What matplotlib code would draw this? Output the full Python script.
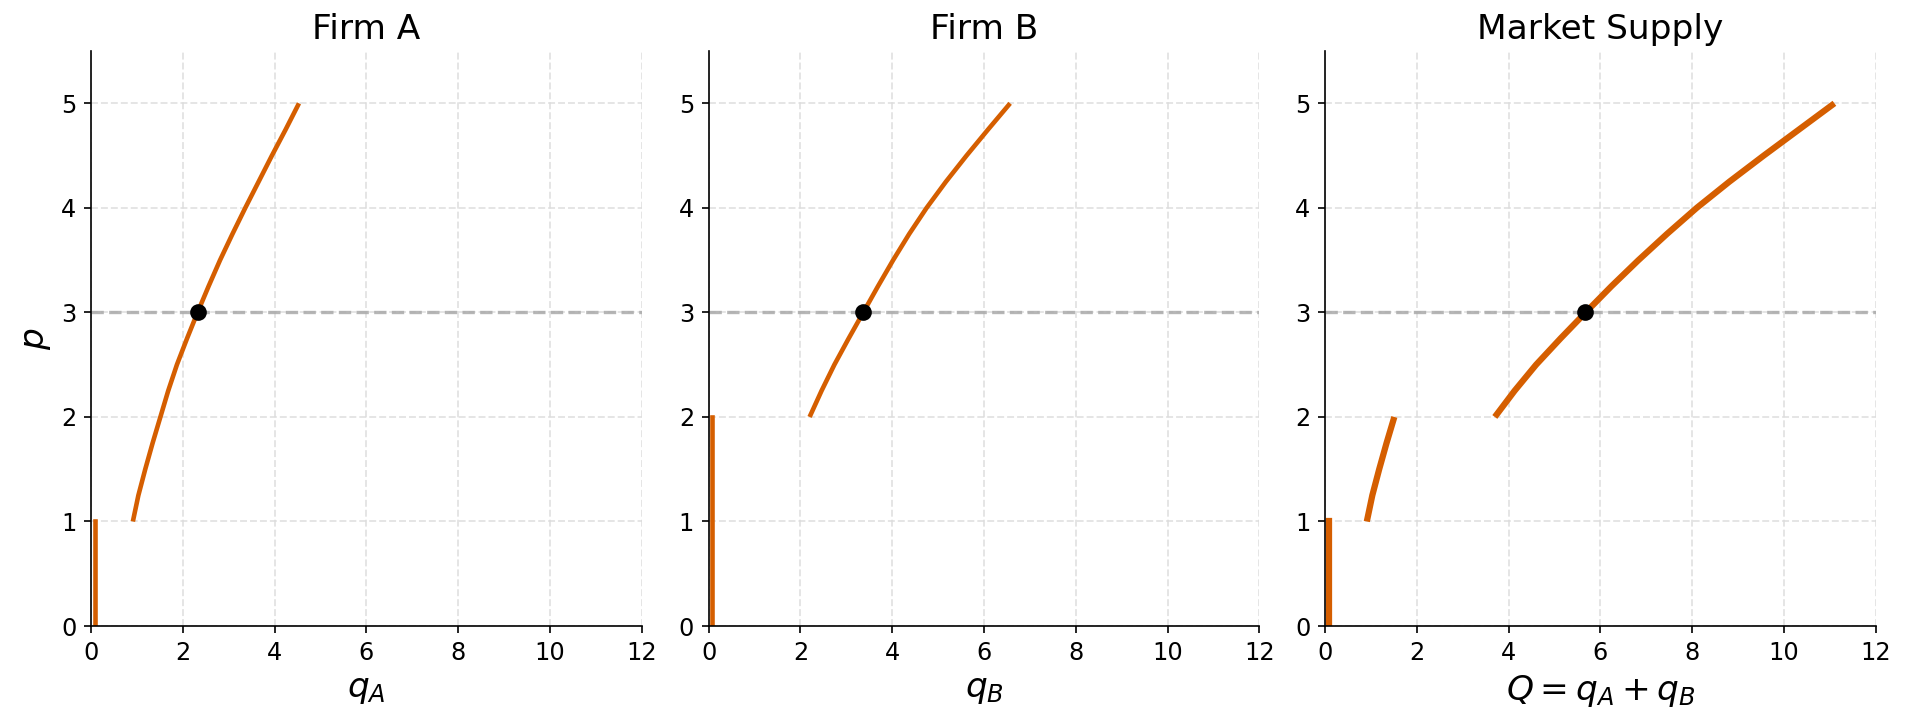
import matplotlib
matplotlib.use("Agg")
import matplotlib.pyplot as plt

# supply curves (price p -> quantity)
p_a = [1.0, 1.25, 1.5, 1.75, 2.0, 2.25, 2.5, 2.75, 3.0, 3.25, 3.5, 3.75, 4.0, 4.25, 4.5, 4.75, 5.0]
q_a = [0.91, 1.03, 1.18, 1.34, 1.51, 1.68, 1.87, 2.09, 2.32, 2.56, 2.81, 3.08, 3.36, 3.65, 3.94, 4.24, 4.53]

p_b = [2.0, 2.25, 2.5, 2.75, 3.0, 3.25, 3.5, 3.75, 4.0, 4.25, 4.5, 4.75, 5.0]
q_b = [2.20, 2.46, 2.74, 3.05, 3.37, 3.69, 4.02, 4.37, 4.75, 5.17, 5.62, 6.09, 6.57]

p_m1 = [1.0, 1.25, 1.5, 1.75, 2.0]
q_m1 = [0.91, 1.03, 1.18, 1.34, 1.51]
p_m2 = [2.0, 2.25, 2.5, 2.75, 3.0, 3.25, 3.5, 3.75, 4.0, 4.25, 4.5, 4.75, 5.0]
q_m2 = [3.70, 4.13, 4.60, 5.13, 5.68, 6.24, 6.83, 7.45, 8.10, 8.81, 9.56, 10.33, 11.10]

# zero-output segments below shutdown price
shut_a = 1.0
shut_b = 2.0
shut_m = 1.0
zero_q = 0.08

price = 3.0
eq_q = [2.32, 3.37, 5.67]

titles = ["Firm A", "Firm B", "Market Supply"]
xlabels = [r"$q_A$", r"$q_B$", r"$Q = q_A + q_B$"]

orange = "#d55e00"

fig = plt.figure(figsize=(1906 / 150, 719 / 150), dpi=150)
lefts = [0.0478, 0.3718, 0.6952]
axes = [fig.add_axes([l, 0.1293, 0.2889, 0.7997]) for l in lefts]

curves = [
    [(q_a, p_a, 2.2)],
    [(q_b, p_b, 2.2)],
    [(q_m1, p_m1, 3.0), (q_m2, p_m2, 3.0)],
]
shuts = [(shut_a, 2.2), (shut_b, 2.2), (shut_m, 3.0)]

for i, ax in enumerate(axes):
    ax.grid(True, linestyle="--", color="#dddddd", linewidth=0.9, alpha=0.8)
    ax.set_axisbelow(True)
    ax.axhline(price, color="#aaaaaa", linestyle="--", linewidth=1.6, alpha=0.85)
    sh, lw = shuts[i]
    ax.plot([zero_q, zero_q], [0, sh], color=orange, linewidth=lw)
    for qs, ps, lw in curves[i]:
        ax.plot(qs, ps, color=orange, linewidth=lw, solid_capstyle="butt")
    ax.plot([eq_q[i]], [price], "o", color="black", markersize=7, zorder=5)
    ax.set_xlim(0, 12)
    ax.set_ylim(0, 5.5)
    ax.set_xticks([0, 2, 4, 6, 8, 10, 12])
    ax.set_yticks([0, 1, 2, 3, 4, 5])
    ax.tick_params(labelsize=11.5)
    ax.spines["top"].set_visible(False)
    ax.spines["right"].set_visible(False)
    ax.set_title(titles[i], fontsize=16.5)
    ax.set_xlabel(xlabels[i], fontsize=16.5)

axes[0].set_ylabel(r"$p$", fontsize=16.5)

fig.savefig("out.png", dpi=150)
